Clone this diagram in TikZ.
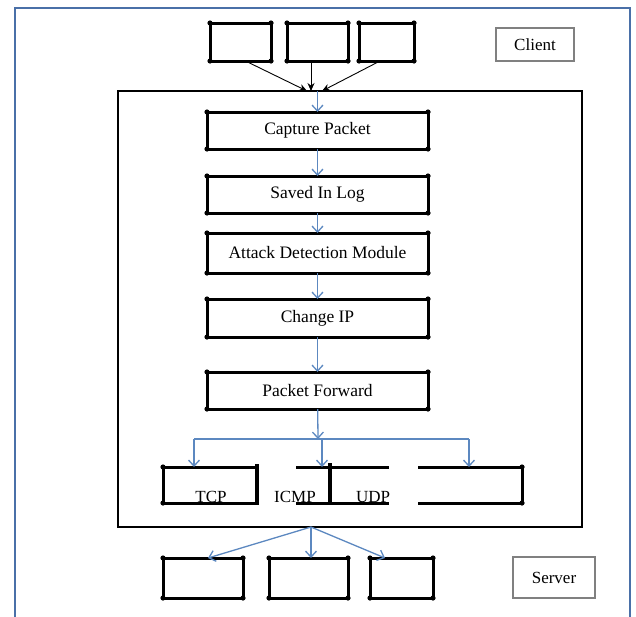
\documentclass[tikz,border=0pt]{standalone}
\usepackage{fontspec}
\setmainfont{Liberation Serif}
\usetikzlibrary{arrows.meta,positioning,calc}
\definecolor{fwblue}{RGB}{74,112,168}
\definecolor{flowblue}{RGB}{92,136,192}
\definecolor{tagline}{RGB}{128,128,128}
\tikzstyle{unit} = [rectangle, draw, line width=3pt, inner sep=0pt, outer sep=0pt, font=\fontsize{17.5}{19}\selectfont]
\tikzstyle{process} = [unit, minimum width=221pt, minimum height=37pt, text centered]
\tikzstyle{tag} = [rectangle, draw=tagline, line width=1.5pt, inner sep=0pt, font=\fontsize{17}{19}\selectfont]
\tikzstyle{proto} = [inner sep=0pt, anchor=base, font=\fontsize{17}{19}\selectfont]
\tikzstyle{flow} = [line width=1.3pt, -{Straight Barb[length=6pt,width=11pt]}, color=flowblue]
\tikzstyle{link} = [line width=0.9pt, -{Stealth[length=8pt,width=7pt]}]

\begin{document}
\begin{tikzpicture}[x=1pt, y=-1pt]
\useasboundingbox (0,0) rectangle (636,616);
\clip (0,0) rectangle (636,616);

% Outer frame
\draw[fwblue, line width=2.8pt] (15,625) -- (15,8) -- (630,8) -- (630,625);

% Clients
\node[unit, minimum width=61pt, minimum height=38pt] (c1) at (240.5,42) {};
\node[unit, minimum width=61pt, minimum height=38pt] (c2) at (317.5,42) {};
\node[unit, minimum width=55pt, minimum height=38pt] (c3) at (386.5,42) {};
\node[tag, minimum width=78pt, minimum height=33pt] (client) at (535,44.5) {Client};

% Gateway frame
\draw[line width=2.4pt] (118,91) rectangle (582,527);
\coordinate (in1) at (307,91);
\coordinate (in2) at (311,91);
\coordinate (in3) at (322,91);
\coordinate (top) at (317.5,91);

\draw[link] ($(c1.south)+(5,0)$) -- (in1);
\draw[link] (c2.south -| in2) -- (in2);
\draw[link] ($(c3.south)+(-6.5,0)$) -- (in3);

% Steps
\node[process] (cap) at (317.5,130.5) {Capture Packet};
\node[process] (log) at (317.5,194.5) {Saved In Log};
\node[process, minimum height=40pt] (adm) at (317.5,253) {Attack Detection Module};
\node[process, minimum height=38pt] (cip) at (317.5,318) {Change IP};
\node[process] (pf) at (317.5,390.5) {Packet Forward};

\draw[flow] (top) -- (cap);
\draw[flow] (cap) -- (log);
\draw[flow] (log) -- (adm);
\draw[flow] (adm) -- (cip);
\draw[flow] (cip) -- (pf);

% Branch
\coordinate (br) at (318,439);
\coordinate (bl) at (194,439);
\coordinate (bm) at (322,439);
\coordinate (bx) at (469,439);
\draw[flow] (pf) -- (br);
\draw[flowblue, line width=1.3pt] (bl) -- (bx);

% Protocols
\node[unit, minimum width=94pt, minimum height=36pt] (tcp) at (210,485) {};
\draw[line width=3.6pt] (tcp.north east) ++(0,-3) -- (tcp.south east);
\coordinate (iu) at (330,467);
\draw[line width=3pt] (296,467) -- (389,467) (296,503) -- (389,503);
\draw[line width=3.6pt] (330,463) -- (330,503);
\coordinate (spare) at (469,467);
\draw[line width=3pt] (418,467) -- (522,467) -- (522,503) -- (418,503);

\draw[flow] (bl) -- (bl |- tcp.north);
\draw[flow] (bm) -- (bm |- iu);
\draw[flow] (bx) -- (spare);

\node[proto] (tcpl) at (211,502) {TCP};
\node[proto] (icmp) at (295,502) {ICMP};
\node[proto] (udp) at (373,502) {UDP};

% Servers
\coordinate (out) at (311,527);
\node[unit, minimum width=80pt, minimum height=40pt] (s1) at (203,578) {};
\node[unit, minimum width=79pt, minimum height=40pt] (s2) at (308.5,578) {};
\node[unit, minimum width=63pt, minimum height=40pt] (s3) at (401.5,578) {};
\node[tag, minimum width=82pt, minimum height=41pt] (server) at (554,577.5) {Server};

\draw[flow] (out) -- ($(s1.north)+(5,0)$);
\draw[flow] (out) -- (s2.north -| out);
\draw[flow] (out) -- ($(s3.north)+(-16.5,0)$);

% corner dots
\foreach \n in {c1,c2,c3,cap,log,adm,cip,pf,s1,s2,s3}
  \foreach \a in {north west,north east,south west,south east}
    \fill (\n.\a) circle (2.6pt);
\fill (tcp.north west) circle (2.6pt) (tcp.south west) circle (2.6pt);
\fill (522,467) circle (2.6pt) (522,503) circle (2.6pt);
\end{tikzpicture}
\end{document}
